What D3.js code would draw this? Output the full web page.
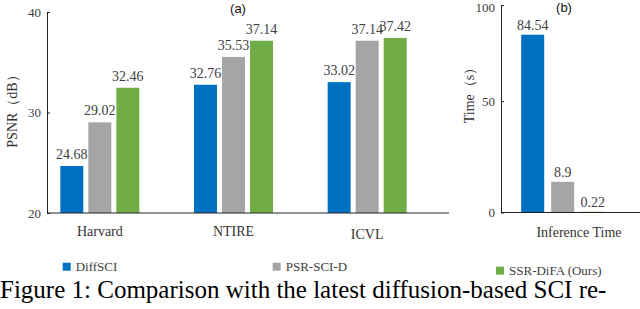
<!DOCTYPE html>
<html>

<head>
    <meta charset='utf-8'>
    <title>SSR-DiFA comparison</title>
    <script type='text/javascript' src='https://cdn.jsdelivr.net/npm/d3@7'></script>
    <style>
        body { margin: 0; background: #fff; }
        svg { font-family: 'Liberation Serif', 'Times New Roman', serif; }
    </style>
</head>

<body>
    <svg width='640' height='309'></svg>
    <script type='text/javascript'>
        // data
        const datasets = ['Harvard', 'NTIRE', 'ICVL']
        const methods = ['DiffSCI', 'PSR-SCI-D', 'SSR-DiFA (Ours)']
        const psnrDiffSCI = [24.68, 32.76, 33.02]
        const psnrPSR = [29.02, 35.53, 37.14]
        const psnrOurs = [32.46, 37.14, 37.42]
        const timeValues = [84.54, 8.9, 0.22]
        const psnrTicks = [20, 30, 40]
        const timeTicks = [0, 50, 100]
        const colors = ['#0070C0', '#A5A5A5', '#70AD47']

        const svg = d3.select('svg')

        // ---- (a) PSNR
        const psnrRows = [psnrDiffSCI, psnrPSR, psnrOurs]
        const x0 = d3.scaleBand().domain(datasets).range([33, 434])
        const x1 = d3.scaleBand().domain(methods).range([-39.5, 39.5]).paddingInner(0.18)
        const yA = d3.scaleLinear().domain([20, 40]).range([213, 12])

        const gA = svg.append('g')
        const barsA = []
        datasets.forEach((ds, i) => {
            methods.forEach((m, j) => barsA.push({ ds: ds, m: m, j: j, v: psnrRows[j][i] }))
        })
        gA.selectAll('rect').data(barsA).enter().append('rect')
            .attr('x', d => x0(d.ds) + x0.bandwidth() / 2 + x1(d.m))
            .attr('width', x1.bandwidth())
            .attr('y', d => yA(d.v))
            .attr('height', d => yA(20) - yA(d.v))
            .attr('fill', d => colors[d.j])
        gA.selectAll('text.val').data(barsA).enter().append('text')
            .attr('class', 'val')
            .attr('x', d => x0(d.ds) + x0.bandwidth() / 2 + x1(d.m) + x1.bandwidth() / 2)
            .attr('y', d => yA(d.v) - 7)
            .attr('text-anchor', 'middle')
            .attr('font-size', 14)
            .attr('fill', '#404040')
            .text(d => d.v.toFixed(2))

        // axes
        const axA = gA.append('g').attr('transform', 'translate(47,0)')
            .call(d3.axisLeft(yA).tickValues(psnrTicks).tickSizeInner(-3).tickSizeOuter(0).tickPadding(6))
        axA.select('.domain').attr('stroke', '#222')
        axA.selectAll('.tick line').attr('stroke', '#222')
        axA.selectAll('.tick text').attr('font-size', 13).attr('fill', '#404040')
            .style('font-family', 'Liberation Serif')
        gA.append('line').attr('x1', 47).attr('x2', 449).attr('y1', yA(20)).attr('y2', yA(20))
            .attr('stroke', '#222')
        gA.selectAll('text.cat').data(datasets).enter().append('text')
            .attr('class', 'cat')
            .attr('x', d => x0(d) + x0.bandwidth() / 2)
            .attr('y', (d, i) => i === 2 ? 239 : 236)
            .attr('text-anchor', 'middle')
            .attr('font-size', 14)
            .attr('fill', '#333')
            .text(d => d)
        gA.append('text')
            .attr('transform', 'translate(17,108) rotate(-90)')
            .attr('text-anchor', 'middle')
            .attr('font-size', 14)
            .attr('fill', '#333')
            .text('PSNR（dB）')
        gA.append('text').attr('x', 238).attr('y', 13).attr('text-anchor', 'middle')
            .style('font-family', 'Liberation Sans').attr('font-size', 13).attr('fill', '#111')
            .text('(a)')

        // ---- (b) inference time
        const xB = d3.scaleBand().domain(methods).range([521.2, 604.2]).paddingInner(0.233)
        const yB = d3.scaleLinear().domain([0, 10, 100]).range([212.5, 178, 5])
        const gB = svg.append('g')
        gB.selectAll('rect').data(timeValues).enter().append('rect')
            .attr('x', (d, i) => xB(methods[i]))
            .attr('width', xB.bandwidth())
            .attr('y', d => yB(d))
            .attr('height', d => yB(0) - yB(d))
            .attr('fill', (d, i) => colors[i])
        gB.selectAll('text.val').data(timeValues).enter().append('text')
            .attr('class', 'val')
            .attr('x', (d, i) => xB(methods[i]) + xB.bandwidth() / 2)
            .attr('y', d => yB(d) - 5)
            .attr('text-anchor', 'middle')
            .attr('font-size', 14)
            .attr('fill', '#404040')
            .text(d => d)
        const axB = gB.append('g').attr('transform', 'translate(501,0)')
            .call(d3.axisLeft(yB).tickValues(timeTicks).tickSizeInner(-3).tickSizeOuter(0).tickPadding(6))
        axB.select('.domain').attr('stroke', '#222')
        axB.selectAll('.tick line').attr('stroke', '#222')
        axB.selectAll('.tick text').attr('font-size', 13).attr('fill', '#404040')
            .style('font-family', 'Liberation Serif')
        axB.selectAll('.tick text').filter(d => d === 100).attr('dy', '0.5em')
        gB.append('line').attr('x1', 501).attr('x2', 640).attr('y1', yB(0)).attr('y2', yB(0))
            .attr('stroke', '#222')
        gB.append('text').attr('x', 579).attr('y', 237).attr('text-anchor', 'middle')
            .attr('font-size', 14).attr('fill', '#333').text('Inference Time')
        gB.append('text')
            .attr('transform', 'translate(474,92) rotate(-90)')
            .attr('text-anchor', 'middle')
            .attr('font-size', 14)
            .attr('fill', '#333')
            .text('Time（s）')
        gB.append('text').attr('x', 564).attr('y', 12).attr('text-anchor', 'middle')
            .style('font-family', 'Liberation Sans').attr('font-size', 13).attr('fill', '#111')
            .text('(b)')

        // ---- legend
        const legendX = [62.7, 272.7, 496]
        const legendY = [262.7, 262.7, 266.7]
        const lg = svg.append('g').selectAll('g').data(methods).enter().append('g')
            .attr('transform', (d, i) => `translate(${legendX[i]},${legendY[i]})`)
        lg.append('rect').attr('width', 8).attr('height', 8).attr('fill', (d, i) => colors[i])
        lg.append('text').attr('x', 13).attr('y', 8).attr('font-size', 13).attr('fill', '#404040')
            .text(d => d)

        // ---- caption
        svg.append('text').attr('x', 0).attr('y', 298).attr('font-size', 25).attr('fill', '#000')
            .text('Figure 1: Comparison with the latest diffusion-based SCI re-')
    </script>
</body>

</html>
